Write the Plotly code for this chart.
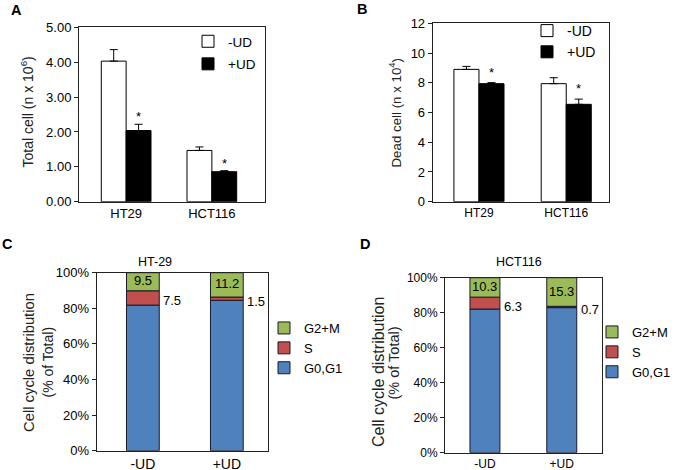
import plotly.graph_objects as go

# ---------------- data ----------------
cell_lines = ["HT29", "HCT116"]
total_minus_ud = [4.03, 1.47]
total_minus_ud_err = [0.33, 0.10]
total_plus_ud = [2.04, 0.86]
total_plus_ud_err = [0.18, 0.03]

dead_minus_ud = [8.90, 7.94]
dead_minus_ud_err = [0.20, 0.40]
dead_plus_ud = [7.94, 6.55]
dead_plus_ud_err = [0.07, 0.35]

conditions = ["-UD", "+UD"]
ht29_g0g1 = [76.4, 69.2]
ht29_s = [7.5, 1.5]
ht29_g2m = [9.5, 11.2]
hct116_g0g1 = [76.1, 77.6]
hct116_s = [6.3, 0.7]
hct116_g2m = [10.3, 15.3]

# ---------------- layout helpers ----------------
W, H = 675, 470
FONT = "Arial, Liberation Sans, sans-serif"


def fx(px):
    return px / W


def fy(py):
    return 1 - py / H


GREEN, RED, BLUE = "#9BBB59", "#C0504D", "#4F81BD"

fig = go.Figure()
annotations = []


def err(arr):
    return dict(type="data", array=arr, arrayminus=[0] * len(arr), symmetric=False,
                color="black", thickness=1, width=4)


# ---------- Panel A ----------
bw_a = 0.29
fig.add_trace(go.Bar(x=cell_lines, y=total_minus_ud, name="-UD", width=bw_a, offset=-bw_a,
                     marker=dict(color="white", line=dict(color="black", width=1)),
                     error_y=err(total_minus_ud_err), legendgroup="a1",
                     xaxis="x", yaxis="y", legend="legend"))
fig.add_trace(go.Bar(x=cell_lines, y=total_plus_ud, name="+UD", width=bw_a, offset=0,
                     marker=dict(color="black", line=dict(color="black", width=1)),
                     error_y=err(total_plus_ud_err), legendgroup="a2",
                     xaxis="x", yaxis="y", legend="legend"))
for i, (v, e) in enumerate(zip(total_plus_ud, total_plus_ud_err)):
    annotations.append(dict(x=i + bw_a / 2, y=v + e, xref="x", yref="y", text="*",
                            showarrow=False, xanchor="center", yanchor="bottom", yshift=-2,
                            font=dict(size=13, color="black", family=FONT)))

# ---------- Panel B ----------
bw_b = 0.287
fig.add_trace(go.Bar(x=cell_lines, y=dead_minus_ud, name="-UD", width=bw_b, offset=-bw_b,
                     marker=dict(color="white", line=dict(color="black", width=1)),
                     error_y=err(dead_minus_ud_err), legendgroup="b1",
                     xaxis="x2", yaxis="y2", legend="legend2"))
fig.add_trace(go.Bar(x=cell_lines, y=dead_plus_ud, name="+UD", width=bw_b, offset=0,
                     marker=dict(color="black", line=dict(color="black", width=1)),
                     error_y=err(dead_plus_ud_err), legendgroup="b2",
                     xaxis="x2", yaxis="y2", legend="legend2"))
for i, (v, e) in enumerate(zip(dead_plus_ud, dead_plus_ud_err)):
    annotations.append(dict(x=i + bw_b / 2, y=v + e, xref="x2", yref="y2", text="*",
                            showarrow=False, xanchor="center", yanchor="bottom", yshift=1,
                            font=dict(size=13, color="black", family=FONT)))


# ---------- Panels C & D (100% stacked) ----------
def add_stack(g0g1, s, g2m, xa, ya, leg, tag):
    totals = [a + b + c for a, b, c in zip(g0g1, s, g2m)]
    p_g0 = [a / t * 100 for a, t in zip(g0g1, totals)]
    p_s = [b / t * 100 for b, t in zip(s, totals)]
    p_g2 = [c / t * 100 for c, t in zip(g2m, totals)]
    base_s = p_g0
    base_g2 = [a + b for a, b in zip(p_g0, p_s)]
    bw = 0.39
    common = dict(width=bw, offset=-bw / 2, xaxis=xa, yaxis=ya, legend=leg)
    fig.add_trace(go.Bar(x=conditions, y=p_g0, base=[0, 0], name="G0,G1", legendgroup=tag + "1",
                         marker=dict(color=BLUE, line=dict(color="#1a1a2a", width=1)), **common))
    fig.add_trace(go.Bar(x=conditions, y=p_s, base=base_s, name="S", legendgroup=tag + "2",
                         marker=dict(color=RED, line=dict(color="#1a1a2a", width=1)), **common))
    fig.add_trace(go.Bar(x=conditions, y=p_g2, base=base_g2, name="G2+M", legendgroup=tag + "3",
                         marker=dict(color=GREEN, line=dict(color="#1a1a2a", width=1)), **common))
    for i in range(len(conditions)):
        annotations.append(dict(x=i, y=base_g2[i] + p_g2[i] / 2, xref=xa, yref=ya,
                                text=str(g2m[i]), showarrow=False, xanchor="center",
                                yanchor="middle", yshift=1,
                                font=dict(size=13, color="black", family=FONT)))
        annotations.append(dict(x=i + bw / 2, y=base_s[i] + p_s[i] / 2, xref=xa, yref=ya,
                                text=str(s[i]), showarrow=False, xanchor="left", xshift=2,
                                yanchor="middle", yshift=-3,
                                font=dict(size=13, color="black", family=FONT)))


add_stack(ht29_g0g1, ht29_s, ht29_g2m, "x3", "y3", "legend3", "c")
add_stack(hct116_g0g1, hct116_s, hct116_g2m, "x4", "y4", "legend4", "d")


# ---------- axes ----------
def tf(size):
    return dict(size=size, color="black", family=FONT)


def xcommon(size):
    return dict(type="category", showline=True, linecolor="#222", linewidth=1, mirror=True,
                ticks="", showgrid=False, zeroline=False, tickfont=tf(size), fixedrange=True,
                automargin=False)


def ycommon(size, mirrorcolor="#222"):
    return dict(showline=True, linecolor=mirrorcolor, linewidth=1, mirror=True, ticks="outside",
                ticklen=4, tickcolor="#222", showgrid=False, zeroline=False, tickfont=tf(size),
                fixedrange=True, automargin=False)


legend_common = dict(xanchor="left", yanchor="top", bgcolor="rgba(0,0,0,0)", itemclick=False,
                     itemdoubleclick=False)

layout = dict(
    template="none",
    width=W, height=H, margin=dict(l=0, r=0, t=0, b=0, autoexpand=False),
    paper_bgcolor="white", plot_bgcolor="white",
    font=dict(family=FONT, color="black"),
    barmode="group", showlegend=True,
    xaxis=dict(domain=[fx(79), fx(265)], anchor="y", range=[-0.55, 1.62], **xcommon(13)),
    yaxis=dict(domain=[fy(201.7), fy(27.3)], anchor="x", range=[0, 5], dtick=1,
               tickformat=".2f", **ycommon(13)),
    xaxis2=dict(domain=[fx(432.7), fx(609)], anchor="y2", range=[-0.53, 1.49], **xcommon(12)),
    yaxis2=dict(domain=[fy(201.7), fy(23.3)], anchor="x2", range=[0, 12], dtick=2, **ycommon(13)),
    xaxis3=dict(domain=[fx(96.7), fx(268)], anchor="y3", range=[-0.55, 1.49], **xcommon(14)),
    yaxis3=dict(domain=[fy(450.7), fy(272.7)], anchor="x3", range=[0, 100], dtick=20,
                ticksuffix="%", **ycommon(13)),
    xaxis4=dict(domain=[fx(445), fx(601.7)], anchor="y4", range=[-0.52, 1.52], **xcommon(12)),
    yaxis4=dict(domain=[fy(452.7), fy(277.7)], anchor="x4", range=[0, 100], dtick=20,
                ticksuffix="%", **ycommon(12)),
    legend=dict(x=fx(188), y=fy(26), tracegroupgap=2, font=dict(size=13.5, family=FONT),
                **legend_common),
    legend2=dict(x=fx(527), y=fy(15), tracegroupgap=0, font=dict(size=14, family=FONT),
                 **legend_common),
    legend3=dict(x=fx(264), y=fy(313), traceorder="reversed", tracegroupgap=3,
                 font=dict(size=13, family=FONT), **legend_common),
    legend4=dict(x=fx(592), y=fy(317), traceorder="reversed", tracegroupgap=2,
                 font=dict(size=13, family=FONT), **legend_common),
)

# panel letters, titles, y-axis titles
for letter, x, y in [("A", 16.7, 10.5), ("B", 361.7, 8.5), ("C", 7.5, 244), ("D", 365, 243.5)]:
    annotations.append(dict(x=fx(x), y=fy(y), xref="paper", yref="paper", text=f"<b>{letter}</b>",
                            showarrow=False, xanchor="center", yanchor="middle",
                            font=dict(size=14.5, family=FONT, color="black")))
annotations.append(dict(x=fx(155), y=fy(262), xref="paper", yref="paper", text="HT-29",
                        showarrow=False, xanchor="center", yanchor="middle",
                        font=dict(size=12.5, family=FONT, color="black")))
annotations.append(dict(x=fx(518.5), y=fy(262), xref="paper", yref="paper", text="HCT116",
                        showarrow=False, xanchor="center", yanchor="middle",
                        font=dict(size=12.5, family=FONT, color="black")))
ytitles = [
    ("Total cell (n x 10<sup>6</sup>)", 27.5, 112, 14),
    ("Dead cell (n x 10<sup>4</sup>)", 396, 113.5, 13.3),
    ("Cell cycle distribution", 29, 363, 14.8),
    ("(% of Total)", 47.5, 362, 14),
    ("Cell cycle distribution", 378, 372, 16),
    ("(% of Total)", 393, 363.5, 14.5),
]
for text, x, y, size in ytitles:
    annotations.append(dict(x=fx(x), y=fy(y), xref="paper", yref="paper", text=text, textangle=-90,
                            showarrow=False, xanchor="center", yanchor="middle",
                            font=dict(size=size, family=FONT, color="#222")))

layout["annotations"] = annotations
fig.update_layout(**layout)
fig.write_html("out.html", config={"displayModeBar": False, "staticPlot": True},
               post_script="document.body.style.margin='0';document.body.style.overflow='hidden';")
